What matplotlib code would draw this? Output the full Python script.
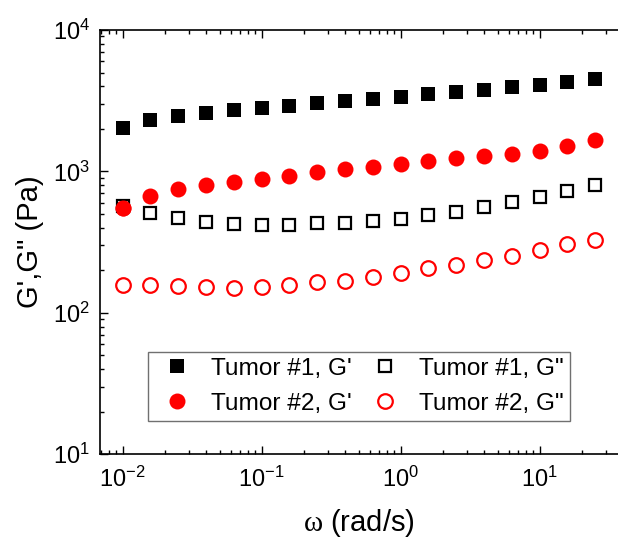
import matplotlib
matplotlib.use("Agg")
import matplotlib.pyplot as plt
from matplotlib.ticker import LogLocator, NullFormatter

plt.rcParams['font.family'] = ['Liberation Sans', 'DejaVu Sans']
plt.rcParams['mathtext.fontset'] = 'custom'
plt.rcParams['mathtext.rm'] = 'Liberation Sans'
plt.rcParams['mathtext.it'] = 'Liberation Serif'
plt.rcParams['mathtext.default'] = 'regular'

# angular frequency (rad/s)
omega = [0.01, 0.0158, 0.0251, 0.0398, 0.0631, 0.1, 0.158, 0.251, 0.398,
         0.631, 1.0, 1.58, 2.51, 3.98, 6.31, 10.0, 15.8, 25.1]

# storage / loss moduli (Pa)
g1_storage = [2040, 2300, 2480, 2580, 2705, 2820, 2915, 3030, 3165,
              3270, 3380, 3514, 3650, 3790, 3955, 4105, 4310, 4485]
g1_loss = [570, 512, 467, 438, 424, 419, 419, 432, 435,
           445, 462, 495, 520, 559, 609, 660, 725, 798]
g2_storage = [550, 675, 752, 803, 848, 886, 934, 989, 1042,
              1082, 1131, 1181, 1246, 1294, 1336, 1396, 1522, 1670]
g2_loss = [157, 158, 156, 152, 150, 153, 158, 165, 168,
           179, 190, 207, 217, 237, 253, 277, 306, 328]

fig = plt.figure(figsize=(6.18, 5.44), dpi=100)
ax = fig.add_axes([100 / 618, 89.7 / 544, 518 / 618, 424.3 / 544])

h1, = ax.plot(omega, g1_storage, 's', color='black', ms=10.5, mew=0,
              label="Tumor #1, G'")
h2, = ax.plot(omega, g2_storage, 'o', color='red', ms=11.5, mew=0,
              label="Tumor #2, G'")
h3, = ax.plot(omega, g1_loss, 's', mfc='none', mec='black', ms=9, mew=1.6,
              label='Tumor #1, G"')
h4, = ax.plot(omega, g2_loss, 'o', mfc='none', mec='red', ms=10.5, mew=1.6,
              label='Tumor #2, G"')
# first filled red circle sits on top of the open square
ax.plot(omega[:1], g2_storage[:1], 'o', color='red', ms=11.5, mew=0)

ax.set_xscale('log')
ax.set_yscale('log')
ax.set_xlim(0.00687, 36.6)
ax.set_ylim(10, 1e4)

for axis in (ax.xaxis, ax.yaxis):
    axis.set_major_locator(LogLocator(base=10, numticks=10))
    axis.set_minor_locator(LogLocator(base=10, subs=range(2, 10), numticks=10))
    axis.set_minor_formatter(NullFormatter())

ax.tick_params(which='both', direction='in', top=True, right=False,
               labelsize=17, width=1)
ax.tick_params(which='major', length=6)
ax.tick_params(which='minor', length=3)
ax.tick_params(axis='x', pad=9)
ax.tick_params(axis='y', pad=7)
ax.spines['right'].set_visible(False)
for s in ('left', 'bottom', 'top'):
    ax.spines[s].set_linewidth(1.2)

ax.set_xlabel(r'$\mathit{\omega}$ (rad/s)', fontsize=21, labelpad=11)
ax.set_ylabel("G',G\" (Pa)", fontsize=21, labelpad=6.5)

leg = ax.legend(handles=[h1, h2, h3, h4], ncol=2, loc='upper left',
                bbox_to_anchor=(0.0927, 0.2418), borderaxespad=0,
                fontsize=17.6, frameon=True, fancybox=False,
                edgecolor='#707070', framealpha=1, handlelength=1.84,
                handletextpad=0.47, columnspacing=0.47, borderpad=0.25,
                labelspacing=0.53)
leg.get_frame().set_linewidth(1)

fig.savefig('out.png', dpi=100)
